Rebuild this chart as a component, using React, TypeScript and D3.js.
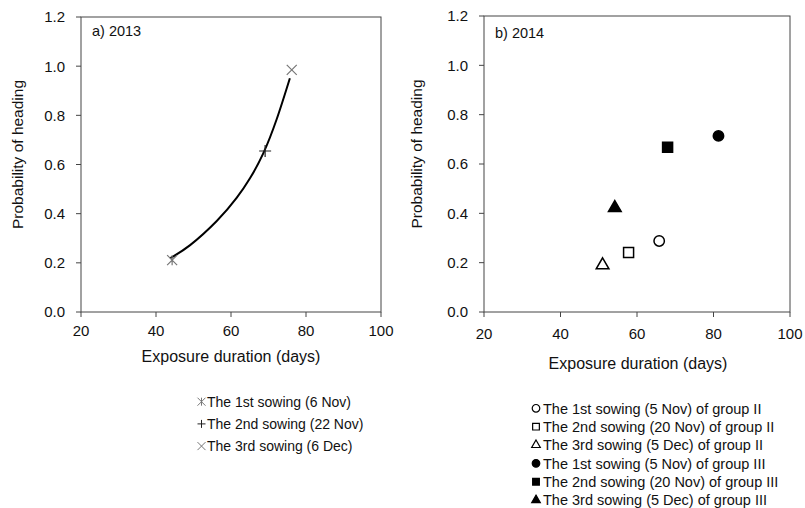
import * as d3 from "d3";

const sow2013 = ["The 1st sowing (6 Nov)", "The 2nd sowing (22 Nov)", "The 3rd sowing (6 Dec)"];
const dur2013 = [44.3, 69.1, 76.2];
const prob2013 = [0.211, 0.655, 0.985];
const mark2013 = ["asterisk", "plus", "x"];

const curveDur = [43.7, 49.1, 56.2, 61.5, 65.1, 68.6, 72.2, 75.7];
const curveProb = [0.218, 0.272, 0.37, 0.464, 0.545, 0.645, 0.785, 0.951];

// 2014 panel
const sow2014 = [
  "The 1st sowing (5 Nov) of group II",
  "The 2nd sowing (20 Nov) of group II",
  "The 3rd sowing (5 Dec) of group II",
  "The 1st sowing (5 Nov) of group III",
  "The 2nd sowing (20 Nov) of group III",
  "The 3rd sowing (5 Dec) of group III",
];
const dur2014 = [65.8, 57.8, 51.0, 81.3, 68.0, 54.2];
const prob2014 = [0.288, 0.241, 0.19, 0.714, 0.668, 0.422];
const mark2014 = ["circle", "square", "triangle", "circle", "square", "triangle"];
const fill2014 = [false, false, false, true, true, true];

const xTicks = [20, 40, 60, 80, 100];
const yTicks = [0, 0.2, 0.4, 0.6, 0.8, 1.0, 1.2];

const FONT = "'Liberation Sans', Arial, sans-serif";
const INK = "#111";
const AXIS = "#444";

function strokeMark(kind: string, r: number) {
  const p = d3.path();
  if (kind === "plus" || kind === "asterisk") {
    p.moveTo(0, -r);
    p.lineTo(0, r);
  }
  if (kind === "plus") {
    p.moveTo(-r, 0);
    p.lineTo(r, 0);
  }
  if (kind === "x" || kind === "asterisk") {
    p.moveTo(-r, -r);
    p.lineTo(r, r);
    p.moveTo(-r, r);
    p.lineTo(r, -r);
  }
  return p.toString();
}

const symType: Record<string, d3.SymbolType> = {
  circle: d3.symbolCircle,
  square: d3.symbolSquare,
  triangle: d3.symbolTriangle,
};

function Panel({ x0, x1, y0, y1, label, labelY, titleX, titleY, xLabY, yTitleX, children }: any) {
  const x = d3.scaleLinear().domain([20, 100]).range([x0, x1]);
  const y = d3.scaleLinear().domain([0, 1.2]).range([y1, y0]);
  return (
    <g>
      <rect x={x0} y={y0} width={x1 - x0} height={y1 - y0} fill="none" stroke={AXIS} strokeWidth={1} />
      {xTicks.map((t) => (
        <g key={"x" + t}>
          <line x1={x(t)} x2={x(t)} y1={y1} y2={y1 + 5} stroke={AXIS} />
          <text x={x(t)} y={xLabY} textAnchor="middle" fontSize={15} fill={INK}>
            {t}
          </text>
        </g>
      ))}
      {yTicks.map((t) => (
        <g key={"y" + t}>
          <line x1={x0 - 5} x2={x0} y1={y(t)} y2={y(t)} stroke={AXIS} />
          <text x={x0 - 16} y={y(t)} dy="0.36em" textAnchor="end" fontSize={15} fill={INK}>
            {t.toFixed(1)}
          </text>
        </g>
      ))}
      <text x={x0 + 11} y={labelY} dy="0.36em" fontSize={14.5} fill={INK}>
        {label}
      </text>
      <text x={titleX} y={titleY} dy="0.36em" textAnchor="middle" fontSize={16} fill={INK}>
        Exposure duration (days)
      </text>
      <text
        transform={`translate(${yTitleX},${(y0 + y1) / 2 - 10}) rotate(-90)`}
        dy="0.36em"
        textAnchor="middle"
        fontSize={15.5}
        fill={INK}
      >
        Probability of heading
      </text>
      {children(x, y)}
    </g>
  );
}

export default function App() {
  const line = d3.line<number>().curve(d3.curveNatural);
  const col2013 = (k: string) => (k === "plus" ? "#222" : "#777");

  return (
    <svg
      width={805}
      height={508}
      style={{ position: "absolute", left: 0, top: 0, background: "#fff", fontFamily: FONT }}
    >
      <Panel x0={81} x1={381} y0={17} y1={312} label="a) 2013" labelY={31} titleX={231} titleY={356} xLabY={336} yTitleX={17}>
        {(x: any, y: any) => (
          <g>
            <path
              d={line.x((_, i) => x(curveDur[i])).y((d) => y(d))(curveProb) || ""}
              fill="none"
              stroke="#000"
              strokeWidth={2}
            />
            {dur2013.map((d, i) => (
              <path
                key={i}
                transform={`translate(${x(d)},${y(prob2013[i])})`}
                d={strokeMark(mark2013[i], mark2013[i] === "plus" ? 6 : 5)}
                stroke={col2013(mark2013[i])}
                strokeWidth={1.2}
                fill="none"
              />
            ))}
          </g>
        )}
      </Panel>
      <Panel x0={484} x1={790} y0={16} y1={312} label="b) 2014" labelY={33} titleX={638} titleY={363} xLabY={339} yTitleX={416}>
        {(x: any, y: any) => (
          <g>
            {dur2014.map((d, i) => (
              <path
                key={i}
                transform={`translate(${x(d)},${y(prob2014[i])})`}
                d={d3.symbol(symType[mark2014[i]], mark2014[i] === "triangle" ? 70 : mark2014[i] === "square" ? 100 : 85)() || ""}
                fill={fill2014[i] ? "#000" : "#fff"}
                stroke="#000"
                strokeWidth={1.5}
              />
            ))}
          </g>
        )}
      </Panel>

      {/* legend 2013 */}
      {sow2013.map((s, i) => (
        <g key={s} transform={`translate(0,${401.7 + i * 22.2})`}>
          <path
            transform="translate(201.5,0)"
            d={strokeMark(mark2013[i], 4)}
            stroke={col2013(mark2013[i])}
            strokeWidth={1}
            fill="none"
          />
          <text x={207} dy="0.36em" fontSize={14} fill={INK}>
            {s}
          </text>
        </g>
      ))}

      {/* legend 2014 */}
      {sow2014.map((s, i) => (
        <g key={s} transform={`translate(0,${408.3 + i * 18.35})`}>
          <path
            transform="translate(536,0)"
            d={d3.symbol(symType[mark2014[i]], mark2014[i] === "triangle" ? 32 : 45)() || ""}
            fill={fill2014[i] ? "#000" : "#fff"}
            stroke="#000"
            strokeWidth={1.2}
          />
          <text x={543} dy="0.36em" fontSize={14.5} fill={INK}>
            {s}
          </text>
        </g>
      ))}
    </svg>
  );
}
